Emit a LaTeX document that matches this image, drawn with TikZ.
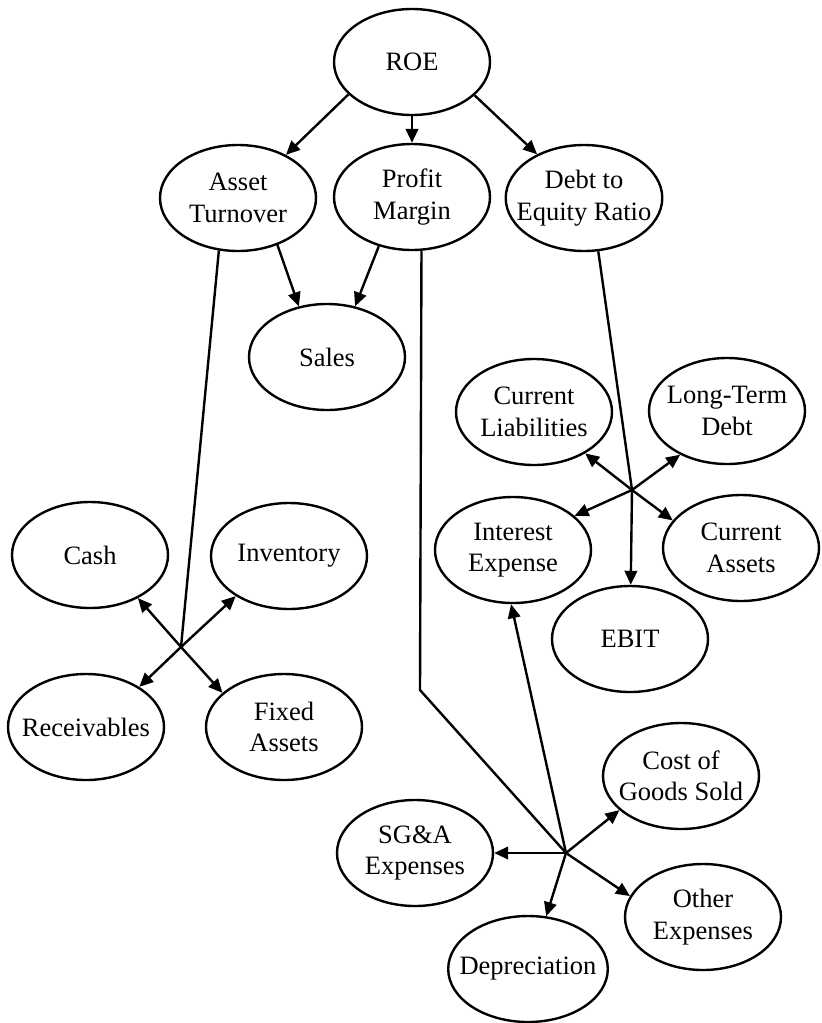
\documentclass[tikz,border=0pt]{standalone}
\usepackage{fontspec}
\setmainfont{Liberation Serif}
\usetikzlibrary{arrows.meta, shapes.geometric}

\begin{document}
\begin{tikzpicture}[
    x=1pt, y=-1pt,
    oval/.style={ellipse, draw, line width=2.4pt, minimum width=156pt, minimum height=106pt,
        inner xsep=-12pt, inner ysep=0pt, align=center, font=\fontsize{26.5}{31.5}\selectfont},
    arrow/.style={-{Triangle[length=14pt, width=12.5pt]}, line width=2.4pt},
    link/.style={line width=2.4pt}
]
\useasboundingbox (0,0) rectangle (822,1023);
% ratios
\node[oval] (roe) at (412,62) {ROE};
\node[oval] (at) at (238,198) {Asset\\Turnover};
\node[oval] (pm) at (412,197) {Profit\\Margin};
\node[oval] (debt) at (584,198) {Debt to\\Equity Ratio};
\node[oval] (sales) at (327,357) {Sales};
% balance sheet items
\node[oval] (cash) at (90,555) {Cash};
\node[oval] (inv) at (289,556) {Inventory};
\node[oval] (rec) at (86,727) {Receivables};
\node[oval] (fa) at (284,727) {Fixed\\Assets};
\node[oval] (cl) at (534,412) {Current\\Liabilities};
\node[oval] (ltd) at (727,411) {Long-Term\\Debt};
\node[oval] (ie) at (513,550) {Interest\\Expense};
\node[oval] (ca) at (741,548) {Current\\Assets};
\node[oval] (ebit) at (630,639) {EBIT};
% expenses
\node[oval] (cogs) at (681,776) {Cost of\\Goods Sold};
\node[oval] (sga) at (415,853) {SG\&A\\Expenses};
\node[oval] (oe) at (703,917) {Other\\Expenses};
\node[oval] (dep) at (528,969) {Depreciation};
% branch points
\coordinate (b1) at (181,647);
\coordinate (b2) at (632,490);
\coordinate (b3) at (566,853);
\coordinate (bend) at (420,690);

\draw[arrow] (roe.207) -- (at.42);
\draw[arrow] (roe.270) -- (pm.90);
\draw[arrow] (roe.332) -- (debt.137);
\draw[arrow] (at.310) -- (sales.119);
\draw[arrow] (pm.236) -- (sales.61);

\draw[link] (at.250) -- (b1);
\draw[arrow] (b1) -- (cash.318);
\draw[arrow] (b1) -- (inv.217);
\draw[arrow] (b1) -- (rec.37);
\draw[arrow] (b1) -- (fa.151);

\draw[link] (debt.285) -- (b2);
\draw[arrow] (b2) -- (ebit);
\draw[arrow] (b2) -- (cl.321);
\draw[arrow] (b2) -- (ltd.223);
\draw[arrow] (b2) -- (ie.29);
\draw[arrow] (b2) -- (ca.158);

\draw[link] (pm.280) -- (bend) -- (b3);
\draw[arrow] (b3) -- (oe.164);
\draw[arrow] (b3) -- (sga);
\draw[arrow] (b3) -- (dep.71);
\draw[arrow] (b3) -- (cogs.209);
\draw[arrow] (b3) -- (ie.268);
\end{tikzpicture}
\end{document}
